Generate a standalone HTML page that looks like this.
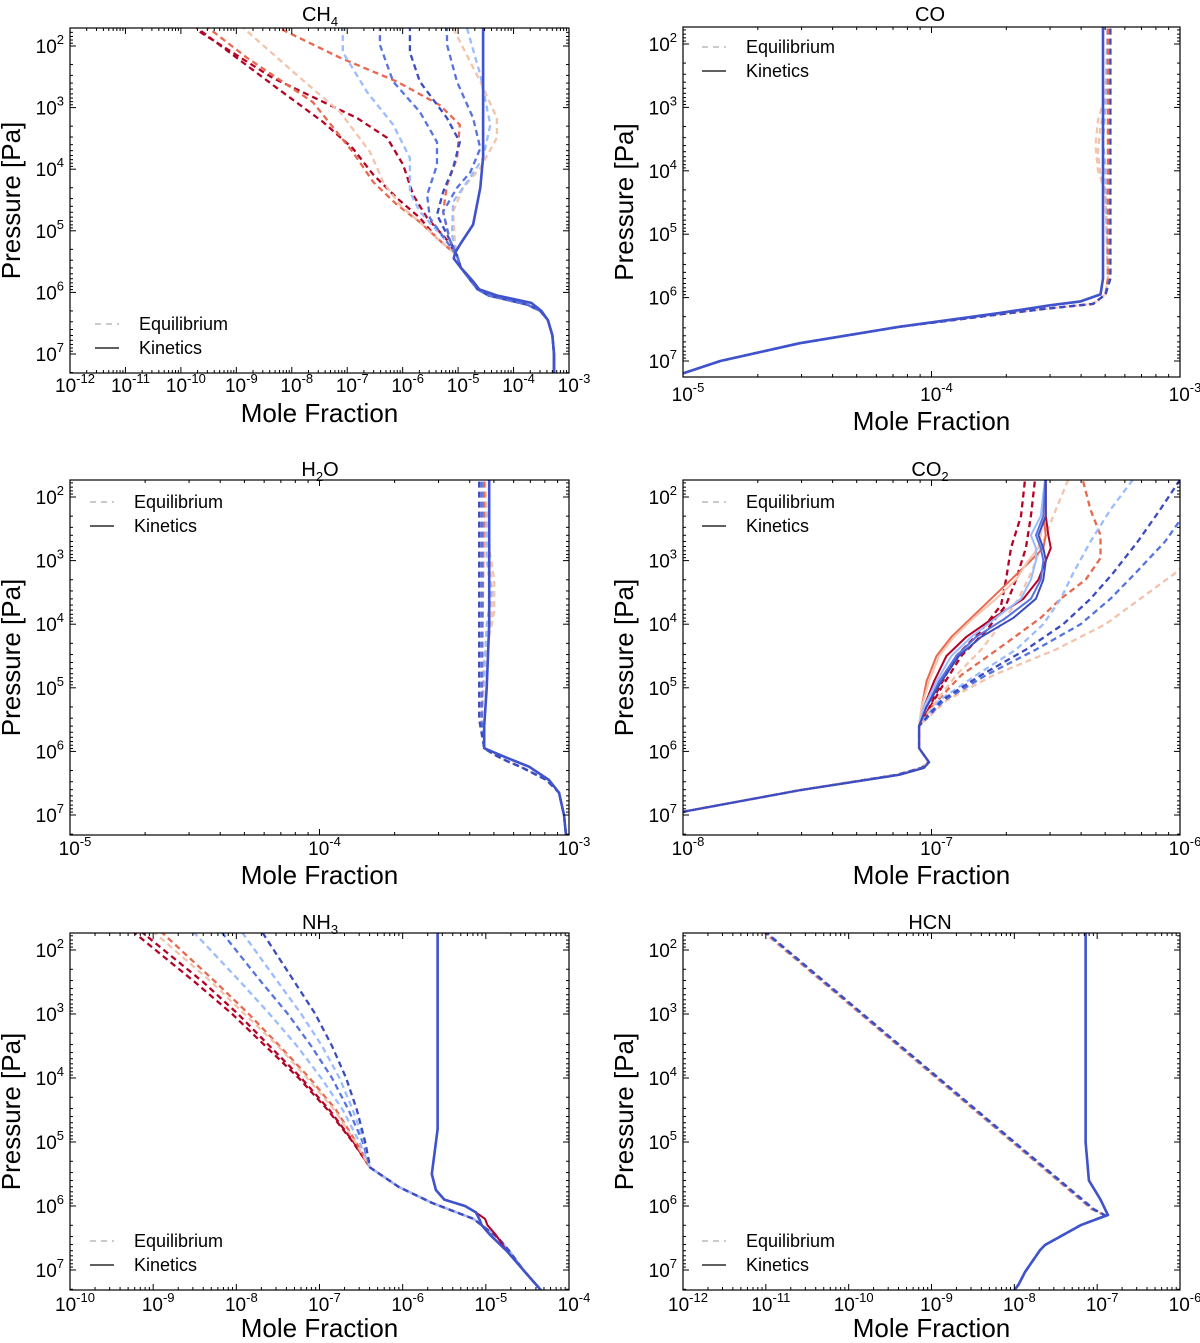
<!DOCTYPE html>
<html><head><meta charset="utf-8"><style>
html,body{margin:0;padding:0;background:#fff;}
svg{display:block;font-family:"Liberation Sans",sans-serif;}
</style></head><body>
<svg id="fig" width="1200" height="1343" viewBox="0 0 1200 1343" xmlns="http://www.w3.org/2000/svg"></svg>
<script>
const DR='#b40426',RO='#e8694f',PA='#f2c4ad',LB='#9bbcff',BL='#5673e0',DB='#3b4cc0',KB='#3f53cc';
// ---------- CH4 ----------
const ch4EqColors=[DR,DR,RO,RO,PA,PA,LB,LB,BL,DB,BL];
const ch4EqLogP=[
[1.66,2.68,3.23,3.66,4.09,4.47,4.79,5.12,5.4],
[1.77,2.52,3.17,3.49,3.93,4.42,4.79,5.15,5.4],
[1.66,2.19,2.58,2.96,3.28,3.82,4.26,4.69,5.15,5.4],
[1.66,2.19,2.91,3.72,4.21,4.58,4.86,5.23,5.4],
[1.66,2.47,3.07,3.72,4.21,4.58,4.91,5.23,5.4],
[1.71,2.58,3.17,3.49,3.98,4.30,4.69,5.15,5.4],
[1.66,2.10,2.75,3.28,3.82,4.37,4.69,5.18,5.4],
[1.71,2.47,3.28,3.82,4.21,4.53,5.07,5.4],
[1.66,1.98,2.58,3.07,3.56,3.93,4.42,4.79,5.18,5.4],
[1.66,2.10,2.58,3.17,3.56,3.98,4.37,4.74,5.15,5.4],
[1.66,1.98,2.58,3.17,3.66,4.05,4.30,4.69,5.15,5.4]];
const ch4EqLogX=[
[-9.78,-8.27,-7.44,-6.90,-6.53,-6.10,-5.69,-5.38,-5.02],
[-9.66,-8.34,-6.82,-6.28,-5.99,-5.81,-5.56,-5.20,-5.02],
[-8.34,-7.13,-6.10,-5.33,-4.97,-5.02,-5.20,-5.27,-5.15,-5.02],
[-9.57,-8.81,-7.62,-6.90,-6.53,-6.10,-5.69,-5.24,-5.02],
[-8.93,-7.91,-7.13,-6.59,-6.35,-6.05,-5.63,-5.24,-5.02],
[-5.09,-4.60,-4.30,-4.30,-4.60,-4.91,-5.09,-5.06,-5.02],
[-7.08,-7.08,-6.64,-6.17,-5.87,-5.87,-5.69,-5.20,-5.02],
[-4.84,-4.60,-4.42,-4.55,-4.84,-5.09,-5.11,-5.02],
[-6.41,-6.41,-6.17,-5.69,-5.38,-5.38,-5.56,-5.51,-5.20,-5.02],
[-5.87,-5.87,-5.69,-5.20,-4.97,-5.09,-5.27,-5.38,-5.15,-5.02],
[-5.20,-5.20,-5.02,-4.73,-4.60,-4.78,-5.02,-5.27,-5.15,-5.02]];
const ch4EqTailLogP=[5.4,5.6,5.8,5.95,6.05,6.2,6.3,6.45,6.7,7.0,7.3];
const ch4EqTailLogX=[-5.02,-4.95,-4.78,-4.65,-4.45,-3.75,-3.52,-3.38,-3.3,-3.27,-3.27];
const ch4KinLogP=[1.6,3.8,4.3,4.9,5.2,5.35,5.45,5.6,5.8,5.95,6.05,6.17,6.3,6.45,6.7,7.0,7.4];
const ch4KinLogX=[-4.55,-4.55,-4.6,-4.73,-4.95,-5.05,-5.08,-4.95,-4.75,-4.62,-4.3,-3.68,-3.5,-3.38,-3.3,-3.27,-3.27];
// ---------- CO ----------
const coEqColors=[PA,PA,LB,RO,BL,DB];
const coEqLogP=[[1.6,2.8,3.2,3.6,4.0,4.3,5.7],[1.6,2.9,3.3,3.7,4.1,4.4,5.7],[1.6,3.0,3.5,4.0,5.7],[1.6,5.7],[1.6,5.7],[1.6,5.7]];
const coEqLogX=[[-3.29,-3.3,-3.33,-3.34,-3.33,-3.3,-3.29],[-3.29,-3.3,-3.32,-3.33,-3.32,-3.3,-3.29],[-3.29,-3.3,-3.31,-3.3,-3.29],[-3.29,-3.29],[-3.28,-3.28],[-3.28,-3.28]];
const coEqTailLogP=[5.7,5.95,6.1,6.18,6.3,6.46,6.72,7.0,7.3];
const coEqTailLogX=[-3.29,-3.3,-3.35,-3.55,-3.8,-4.13,-4.53,-4.85,-5.08];
const coKinLogP=[1.6,5.7,5.95,6.06,6.12,6.24,6.46,6.72,7.0,7.3];
const coKinLogX=[-3.31,-3.31,-3.32,-3.4,-3.52,-3.72,-4.13,-4.53,-4.85,-5.08];
// ---------- H2O ----------
const h2oEqColors=[PA,PA,LB,RO,BL,DB];
const h2oEqLogP=[[1.6,2.8,3.3,3.8,4.2,4.5,5.5],[1.6,2.9,3.4,3.9,4.3,5.5],[1.6,3.0,3.5,4.0,5.5],[1.6,5.5],[1.6,5.5],[1.6,5.5]];
const h2oEqLogX=[[-3.34,-3.32,-3.3,-3.3,-3.32,-3.34,-3.35],[-3.34,-3.32,-3.31,-3.31,-3.33,-3.35],[-3.34,-3.33,-3.31,-3.33,-3.35],[-3.34,-3.35],[-3.35,-3.35],[-3.36,-3.36]];
const h2oEqTailLogP=[5.5,5.95,6.05,6.15,6.25,6.45,6.65,7.0,7.4];
const h2oEqTailLogX=[-3.35,-3.34,-3.3,-3.25,-3.19,-3.09,-3.04,-3.02,-3.01];
const h2oKinLogP=[1.6,4.0,5.0,5.6,5.95,6.05,6.13,6.24,6.45,6.65,7.0,7.4];
const h2oKinLogX=[-3.32,-3.32,-3.33,-3.34,-3.34,-3.28,-3.23,-3.16,-3.08,-3.04,-3.02,-3.01];
// ---------- CO2 ----------
const co2EqColors=[DR,DR,RO,PA,PA,LB,BL,DB];
const co2EqLogP=[
[1.6,2.3,2.8,3.3,3.7,4.1,4.5,5.0,5.4,5.6],
[1.6,2.3,2.8,3.3,3.7,4.1,4.5,5.0,5.4,5.6],
[1.6,2.2,2.6,2.96,3.3,3.6,3.9,4.3,4.8,5.3,5.6],
[1.73,2.2,2.7,3.2,3.6,4.0,4.4,4.8,5.2,5.6],
[1.73,2.2,2.7,3.2,3.6,4.0,4.4,4.8,5.2,5.6],
[1.73,2.2,2.7,3.2,3.6,4.0,4.4,4.8,5.2,5.6],
[1.73,2.2,2.7,3.2,3.6,4.0,4.4,4.8,5.2,5.6],
[1.73,2.2,2.7,3.2,3.6,4.0,4.4,4.8,5.2,5.6]];
const co2EqLogX=[
[-6.62,-6.64,-6.68,-6.7,-6.72,-6.8,-6.9,-6.97,-7.02,-7.05],
[-6.58,-6.6,-6.62,-6.66,-6.7,-6.78,-6.88,-6.96,-7.02,-7.05],
[-6.40,-6.36,-6.32,-6.32,-6.38,-6.48,-6.56,-6.7,-6.88,-7.0,-7.05],
[-5.65,-5.75,-5.88,-6.02,-6.16,-6.3,-6.5,-6.75,-6.94,-7.05],
[-6.45,-6.5,-6.55,-6.6,-6.65,-6.72,-6.8,-6.9,-6.98,-7.05],
[-6.19,-6.28,-6.36,-6.43,-6.48,-6.55,-6.66,-6.82,-6.97,-7.05],
[-5.9,-5.97,-6.06,-6.18,-6.28,-6.4,-6.58,-6.78,-6.95,-7.05],
[-6.0,-6.08,-6.17,-6.27,-6.36,-6.47,-6.62,-6.8,-6.96,-7.05]];
const co2EqTailLogP=[5.6,5.95,6.17,6.26,6.37,6.61,6.95,7.4];
const co2EqTailLogX=[-7.05,-7.05,-7.01,-7.04,-7.14,-7.53,-8.0,-8.6];
const co2KinColors=[DR,RO,PA,LB,BL,DB];
const co2KinLogP=[1.6,2.3,2.6,2.8,3.0,3.3,3.6,3.9,4.2,4.5,4.9,5.3,5.6,5.95,6.17,6.26,6.37,6.61,6.95,7.4];
const co2KinLogX=[
[-6.54,-6.54,-6.53,-6.52,-6.54,-6.57,-6.63,-6.75,-6.86,-6.94,-6.99,-7.03,-7.05,-7.05,-7.01,-7.03,-7.13,-7.53,-8.0,-8.6],
[-6.54,-6.55,-6.54,-6.55,-6.6,-6.68,-6.76,-6.84,-6.92,-6.98,-7.02,-7.04,-7.05,-7.05,-7.01,-7.03,-7.13,-7.53,-8.0,-8.6],
[-6.54,-6.55,-6.56,-6.57,-6.61,-6.66,-6.74,-6.83,-6.91,-6.97,-7.01,-7.04,-7.05,-7.05,-7.01,-7.03,-7.13,-7.53,-8.0,-8.6],
[-6.54,-6.56,-6.6,-6.58,-6.58,-6.6,-6.64,-6.74,-6.84,-6.92,-6.98,-7.03,-7.05,-7.05,-7.01,-7.03,-7.13,-7.53,-8.0,-8.6],
[-6.54,-6.55,-6.58,-6.56,-6.55,-6.56,-6.6,-6.7,-6.82,-6.9,-6.97,-7.02,-7.05,-7.05,-7.01,-7.03,-7.13,-7.53,-8.0,-8.6],
[-6.54,-6.54,-6.57,-6.55,-6.54,-6.55,-6.58,-6.67,-6.8,-6.89,-6.96,-7.02,-7.05,-7.05,-7.01,-7.03,-7.13,-7.53,-8.0,-8.6]];
// ---------- NH3 ----------
const nh3EqColors=[DR,DR,RO,PA,LB,BL,LB,DB];
const nh3EqLogP=[1.6,2.5,3.0,3.5,4.0,4.5,5.0,5.4];
const nh3EqLogX=[
[-9.35,-8.5,-8.05,-7.65,-7.25,-6.9,-6.6,-6.39],
[-9.25,-8.4,-7.98,-7.6,-7.22,-6.88,-6.59,-6.39],
[-9.0,-8.25,-7.85,-7.48,-7.12,-6.8,-6.56,-6.39],
[-9.1,-8.3,-7.9,-7.5,-7.15,-6.82,-6.57,-6.39],
[-8.6,-7.95,-7.6,-7.27,-6.98,-6.72,-6.52,-6.39],
[-8.25,-7.7,-7.38,-7.1,-6.85,-6.65,-6.48,-6.39],
[-8.0,-7.5,-7.22,-6.97,-6.76,-6.6,-6.46,-6.39],
[-7.75,-7.3,-7.05,-6.85,-6.68,-6.55,-6.45,-6.39]];
const nh3EqTailLogP=[5.4,5.7,5.95,6.1,6.2,6.35,6.5,6.7,7.0,7.4];
const nh3EqTailLogX=[-6.39,-6.05,-5.65,-5.35,-5.15,-5.0,-4.85,-4.72,-4.55,-4.28];
const nh3KinLogP=[1.6,4.8,5.2,5.5,5.75,5.9,6.0,6.1,6.2,6.3,6.45,6.7,7.0,7.4];
const nh3KinLogX=[-5.58,-5.58,-5.62,-5.65,-5.6,-5.5,-5.25,-5.12,-5.08,-5.05,-4.95,-4.75,-4.55,-4.28];
// ---------- HCN ----------
const hcnEqColors=[PA,RO,LB,BL,DB];
const hcnEqLogP=[1.6,6.05,6.15];
const hcnEqLogX=[[-11.14,-7.07,-6.9],[-11.13,-7.06,-6.9],[-11.12,-7.05,-6.9],[-11.12,-7.05,-6.9],[-11.11,-7.04,-6.9]];
const hcnKinLogP=[1.6,5.0,5.6,5.9,6.14,6.3,6.61,6.69,7.03,7.23,7.4];
const hcnKinLogX=[-7.14,-7.14,-7.1,-6.96,-6.87,-7.2,-7.63,-7.69,-7.87,-7.95,-8.05];

const SVGNS='http://www.w3.org/2000/svg';
const fig=document.getElementById('fig');
function mk(tag,attrs,parent){const e=document.createElementNS(SVGNS,tag);for(const k in attrs)e.setAttribute(k,attrs[k]);(parent||fig).appendChild(e);return e;}

const panels=[
{id:'ch4',x0:70,x1:569,xmin:-12,xmax:-3,y2:46,ppd:61.6,top:28,bottom:373,title:'CH',sub:'4',tx:320,ty:21,xlY:422,tlY:392,leg:[95,324]},
{id:'co',x0:683,x1:1180,xmin:-5,xmax:-3,y2:44,ppd:63.4,top:27,bottom:377,title:'CO',sub:'',tx:930,ty:21,xlY:430,tlY:401,leg:[702,47]},
{id:'h2o',x0:70,x1:569,xmin:-5,xmax:-3,y2:497,ppd:63.6,top:480,bottom:835,title:'H',sub:'2',tail:'O',tx:320,ty:476,xlY:884,tlY:855,leg:[90,502]},
{id:'co2',x0:683,x1:1180,xmin:-8,xmax:-6,y2:497,ppd:63.6,top:480,bottom:835,title:'CO',sub:'2',tx:930,ty:476,xlY:884,tlY:855,leg:[702,502]},
{id:'nh3',x0:70,x1:569,xmin:-10,xmax:-4,y2:950,ppd:64,top:933,bottom:1290,title:'NH',sub:'3',tx:320,ty:929,xlY:1337,tlY:1311,leg:[90,1241]},
{id:'hcn',x0:683,x1:1180,xmin:-12,xmax:-6,y2:950,ppd:64,top:933,bottom:1290,title:'HCN',sub:'',tx:930,ty:929,xlY:1337,tlY:1311,leg:[702,1241]}];

function drawPanel(p,series){
  const g=mk('g',{});
  
  
  const sx=v=>p.x0+(v-p.xmin)/(p.xmax-p.xmin)*(p.x1-p.x0);
  const sy=v=>p.y2+(v-2)*p.ppd;
  const cp=mk('clipPath',{id:'clip-'+p.id},g);
  mk('rect',{x:p.x0,y:p.top,width:p.x1-p.x0,height:p.bottom-p.top},cp);
  const lines=mk('g',{'clip-path':'url(#clip-'+p.id+')'},g);
  
  
  series.forEach(s=>{
    const pts=s.P.map((v,i)=>sx(s.X[i]).toFixed(1)+','+sy(v).toFixed(1)).join(' ');
    const pl=mk('polyline',{points:pts,fill:'none',stroke:s.c,'stroke-width':s.dash?2.3:(s.c===KB?2.6:2),'stroke-linejoin':'round'},lines);
    if(s.dash)pl.setAttribute('stroke-dasharray','6,4');
    
    
  });
  const fr=mk('rect',{x:p.x0,y:p.top,width:p.x1-p.x0,height:p.bottom-p.top,fill:'none',stroke:'#000','stroke-width':1.2},g);
  
  
  for(let n=1;n<=7;n++){for(let k=1;k<10;k++){const v=n+Math.log10(k);const y=sy(v);if(y<p.top||y>p.bottom)continue;const L=k===1?6:3;
    mk('line',{x1:p.x0,x2:p.x0+L,y1:y,y2:y,stroke:'#000','stroke-width':1},g);
    mk('line',{x1:p.x1,x2:p.x1-L,y1:y,y2:y,stroke:'#000','stroke-width':1},g);
    if(k===1){const t=mk('text',{x:p.x0-6,y:y+7,'text-anchor':'end','font-size':19},g);t.textContent='10';
      const sp=mk('tspan',{dy:-9,'font-size':13},t);sp.textContent=String(n);
      
      }
  }}
  for(let n=p.xmin;n<=p.xmax;n++){for(let k=1;k<10;k++){const v=n+Math.log10(k);if(v>p.xmax+1e-9)continue;const x=sx(v);const L=k===1?6:3;
    mk('line',{x1:x,x2:x,y1:p.bottom,y2:p.bottom-L,stroke:'#000','stroke-width':1},g);
    mk('line',{x1:x,x2:x,y1:p.top,y2:p.top+L,stroke:'#000','stroke-width':1},g);
    if(k===1){const t=mk('text',{x:x+5,y:p.tlY,'text-anchor':'middle','font-size':19},g);t.textContent='10';
      const sp=mk('tspan',{dy:-9,'font-size':13},t);sp.textContent=String(n);
      
      }
  }}
  const tt=mk('text',{x:p.tx,y:p.ty,'text-anchor':'middle','font-size':20},g);tt.textContent=p.title;
  if(p.sub){const s=mk('tspan',{dy:5,'font-size':13},tt);s.textContent=p.sub;}
  if(p.tail){const s=mk('tspan',{dy:-5,'font-size':20},tt);s.textContent=p.tail;}
  
  
  const xl=mk('text',{x:(p.x0+p.x1)/2,y:p.xlY,'text-anchor':'middle','font-size':26},g);xl.textContent='Mole Fraction';
  
  
  const cy=(p.top+p.bottom)/2, lx=p.x0-50;
  const yl=mk('text',{x:lx,y:cy,'text-anchor':'middle','font-size':26,transform:'rotate(-90 '+lx+' '+cy+')'},g);yl.textContent='Pressure [Pa]';
  
  
  const lg=mk('g',{},g);
  
  
  const [lx0,ly0]=p.leg;
  mk('line',{x1:lx0,x2:lx0+24,y1:ly0,y2:ly0,stroke:'#aaa','stroke-width':1.3,'stroke-dasharray':'6,5'},lg);
  const e1=mk('text',{x:lx0+44,y:ly0+6,'font-size':18},lg);e1.textContent='Equilibrium';
  
  
  mk('line',{x1:lx0,x2:lx0+24,y1:ly0+24,y2:ly0+24,stroke:'#000','stroke-width':1.3},lg);
  const e2=mk('text',{x:lx0+44,y:ly0+30,'font-size':18},lg);e2.textContent='Kinetics';
  
  
}
function eqSeries(colors,P,X,tailP,tailX,sharedP){
  return colors.map((c,i)=>{const pp=sharedP?P:P[i];return {c,dash:true,name:'equilibrium-line',P:tailP?pp.concat(tailP.slice(1)):pp,X:tailP?X[i].concat(tailX.slice(1)):X[i]};});
}
function kinSeries(P,X){return [RO,PA,LB,KB].map(c=>({c,dash:false,name:'kinetics-line',P,X}));}

drawPanel(panels[0],eqSeries(ch4EqColors,ch4EqLogP,ch4EqLogX,ch4EqTailLogP,ch4EqTailLogX).concat(kinSeries(ch4KinLogP,ch4KinLogX)));
drawPanel(panels[1],eqSeries(coEqColors,coEqLogP,coEqLogX,coEqTailLogP,coEqTailLogX).concat(kinSeries(coKinLogP,coKinLogX)));
drawPanel(panels[2],eqSeries(h2oEqColors,h2oEqLogP,h2oEqLogX,h2oEqTailLogP,h2oEqTailLogX).concat(kinSeries(h2oKinLogP,h2oKinLogX)));
drawPanel(panels[3],eqSeries(co2EqColors,co2EqLogP,co2EqLogX,co2EqTailLogP,co2EqTailLogX).concat(co2KinColors.map((c,i)=>({c,dash:false,name:'kinetics-line',P:co2KinLogP,X:co2KinLogX[i]}))));
drawPanel(panels[4],eqSeries(nh3EqColors,nh3EqLogP,nh3EqLogX,nh3EqTailLogP,nh3EqTailLogX,true).concat([DR].map(c=>({c,dash:false,name:'kinetics-line',P:nh3KinLogP,X:nh3KinLogX.map((v,i)=>nh3KinLogP[i]>6.15&&nh3KinLogP[i]<6.5?v+0.07:v)}))).concat(kinSeries(nh3KinLogP,nh3KinLogX)));
drawPanel(panels[5],eqSeries(hcnEqColors,hcnEqLogP,hcnEqLogX,hcnKinLogP.slice(4),hcnKinLogX.slice(4),true).concat(kinSeries(hcnKinLogP,hcnKinLogX)));
</script>
</body></html>
